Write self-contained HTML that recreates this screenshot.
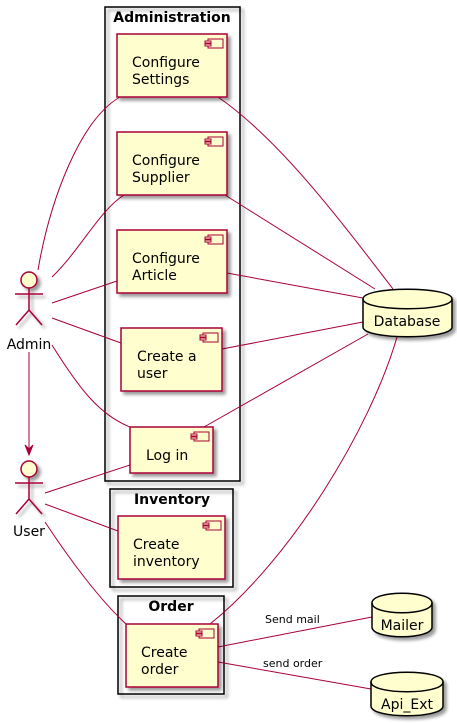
<!DOCTYPE html>
<html><head><meta charset="utf-8"><style>body{margin:0;background:#fff}svg{display:block}</style></head><body>
<svg width="457" height="723" xmlns="http://www.w3.org/2000/svg" font-family="DejaVu Sans, sans-serif">
<defs><filter id="s" x="-20%" y="-20%" width="150%" height="150%"><feGaussianBlur in="SourceAlpha" stdDeviation="1.5"/><feOffset dx="3" dy="3"/><feComponentTransfer><feFuncA type="linear" slope="0.4"/></feComponentTransfer><feMerge><feMergeNode/><feMergeNode in="SourceGraphic"/></feMerge></filter>
<g id="ic"><rect x="0" y="0" width="15" height="9"/><rect x="-3" y="2" width="6" height="2"/><rect x="-3" y="5" width="6" height="2"/></g>
</defs>
<g fill="none" stroke="#000" stroke-width="1.5" filter="url(#s)">
<rect x="105" y="7" width="135" height="474"/>
<rect x="110" y="489" width="123" height="98"/>
<rect x="118" y="596" width="106" height="98"/>
</g>
<g font-weight="bold" font-size="14" text-anchor="middle">
<text x="172" y="22">Administration</text>
<text x="172" y="504">Inventory</text>
<text x="171" y="611">Order</text>
</g>
<g fill="none" stroke="#A80036" stroke-width="1">
<path d="M38,270 C50,200 80,120 120,97"/>
<path d="M52,277 C80,250 100,210 124,195"/>
<path d="M52,303 L117,281"/>
<path d="M52,318 L121,343"/>
<path d="M52,345 C80,390 100,415 130,427"/>
<path d="M45,493 L130,465"/>
<path d="M45,504 L118,531"/>
<path d="M45,522 C70,560 100,600 126,624"/>
<path d="M218,97 C280,140 340,220 393,289"/>
<path d="M225,195 L375,289"/>
<path d="M227,273 L363,298"/>
<path d="M222,349 L363,322"/>
<path d="M204,427 L368,334"/>
<path d="M210,624 C290,560 370,430 397,337"/>
<path d="M218,647 L372,617"/>
<path d="M218,662 L371,689"/>
<path d="M29,352 L29,452"/>
<path d="M25,445 L29,455 L33,445 L29,449 Z" fill="#A80036"/>
</g>
<g font-size="11" fill="#000">
<text x="265" y="623">Send mail</text>
<text x="263" y="667">send order</text>
</g>
<g fill="#FEFECE" stroke="#A80036" stroke-width="1.5" filter="url(#s)">
<rect x="117" y="34" width="110" height="63"/>
<rect x="117" y="132" width="110" height="63"/>
<rect x="117" y="230" width="110" height="63"/>
<rect x="121" y="328" width="101" height="63"/>
<rect x="130" y="427" width="83" height="46"/>
<rect x="118" y="516" width="107" height="63"/>
<rect x="126" y="624" width="92" height="63"/>
</g>
<g fill="#FEFECE" stroke="#A80036" stroke-width="1">
<use href="#ic" x="208" y="39"/><use href="#ic" x="208" y="137"/><use href="#ic" x="208" y="235"/>
<use href="#ic" x="203" y="333"/><use href="#ic" x="194" y="432"/><use href="#ic" x="206" y="521"/><use href="#ic" x="199" y="629"/>
</g>
<g font-size="14" fill="#000">
<text x="132" y="67">Configure</text><text x="132" y="84">Settings</text>
<text x="132" y="165">Configure</text><text x="132" y="182">Supplier</text>
<text x="132" y="263">Configure</text><text x="132" y="280">Article</text>
<text x="137" y="361">Create a</text><text x="137" y="378">user</text>
<text x="146" y="460">Log in</text>
<text x="133" y="549">Create</text><text x="133" y="566">inventory</text>
<text x="141" y="657">Create</text><text x="141" y="674">order</text>
</g>
<g fill="#FEFECE" stroke="#000" stroke-width="1.5" filter="url(#s)">
<path d="M363,299 C363,286 452,286 452,299 L452,327 C452,340 363,340 363,327 Z"/>
<path d="M372,603 C372,590 432,590 432,603 L432,627 C432,640 372,640 372,627 Z"/>
<path d="M371,682 C371,669 443,669 443,682 L443,706 C443,719 371,719 371,706 Z"/>
</g>
<g fill="none" stroke="#000" stroke-width="1.5">
<path d="M363,299 C363,312 452,312 452,299"/>
<path d="M372,603 C372,616 432,616 432,603"/>
<path d="M371,682 C371,695 443,695 443,682"/>
</g>
<g font-size="14" fill="#000" text-anchor="middle">
<text x="407" y="326">Database</text>
<text x="402" y="630">Mailer</text>
<text x="407" y="709">Api_Ext</text>
</g>
<g stroke="#A80036" stroke-width="1.5" fill="#FEFECE" filter="url(#s)">
<circle cx="29" cy="280" r="8"/>
<path d="M29,288 L29,310 M15,294 L43,294 M29,310 L16,325 M29,310 L42,325" fill="none"/>
<circle cx="29" cy="469" r="8"/>
<path d="M29,477 L29,499 M15,483 L43,483 M29,499 L16,514 M29,499 L42,514" fill="none"/>
</g>
<g font-size="14" fill="#000" text-anchor="middle">
<text x="29" y="349">Admin</text>
<text x="29" y="536">User</text>
</g>
</svg>
</body></html>
